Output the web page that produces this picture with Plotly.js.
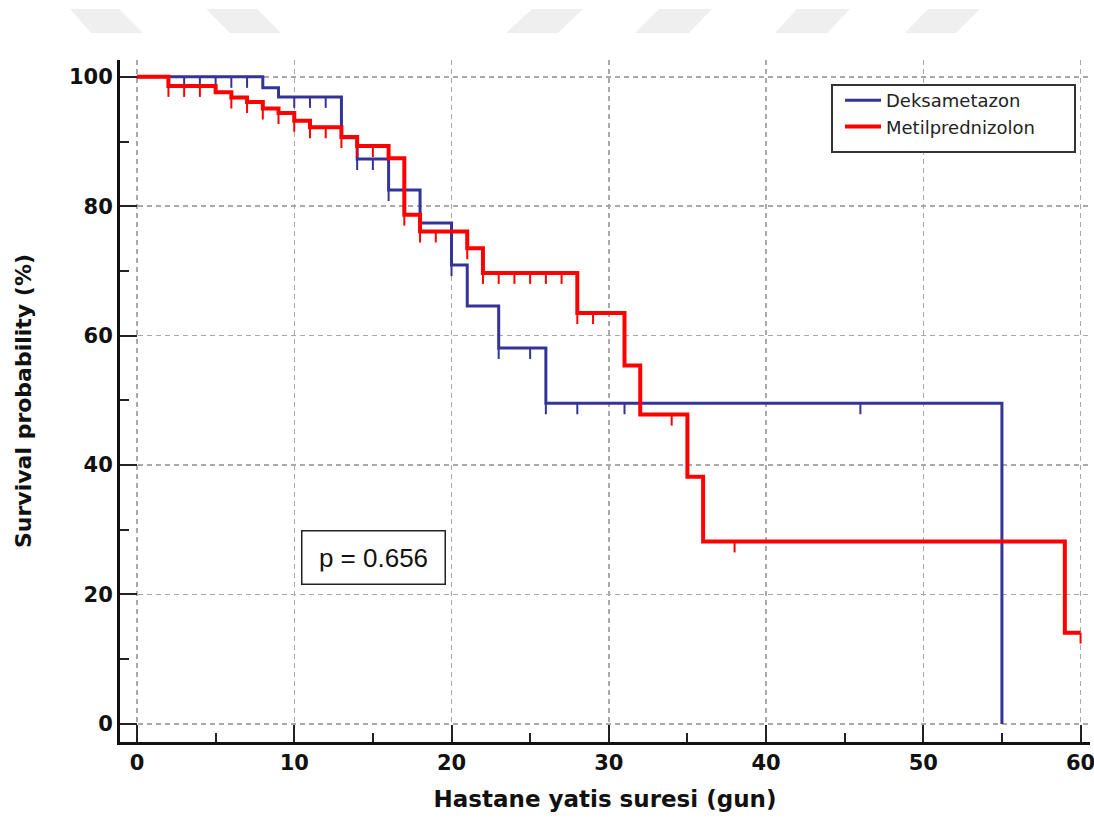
<!DOCTYPE html>
<html>
<head>
<meta charset="utf-8">
<script src="https://cdn.plot.ly/plotly-3.0.1.min.js"></script>
<style>html,body{margin:0;padding:0;background:#fff;}#chart{width:1094px;height:823px;}</style>
</head>
<body>
<div id="chart"></div>
<script>
// ---- data ----
const seriesNames = ["Deksametazon", "Metilprednizolon"];
const dekTime = [0, 8, 9, 13, 14, 16, 18, 20, 21, 23, 26, 55];
const dekSurv = [100, 98.3, 96.9, 90.6, 87.3, 82.5, 77.4, 70.9, 64.6, 58.1, 49.55, 0];
const dekCensor = [3, 4, 5, 6, 7, 10, 11, 12, 14, 15, 16, 20, 23, 25, 26, 28, 31, 46];
const metTime = [0, 2, 5, 6, 7, 8, 9, 10, 11, 13, 14, 16, 17, 18, 21, 22, 28, 31, 32, 35, 36, 59, 60];
const metSurv = [100, 98.6, 97.6, 96.8, 96.1, 95.1, 94.4, 93.2, 92.2, 90.7, 89.3, 87.4, 78.7, 76.1, 73.5, 69.7, 63.5, 55.4, 47.8, 38.2, 28.2, 14.1, 14.1];
const metCensor = [2, 3, 4, 6, 7, 8, 9, 10, 11, 12, 13, 14, 15, 17, 18, 19, 21, 22, 23, 24, 25, 26, 27, 28, 29, 34, 38, 60];
const xTickVals = [0, 10, 20, 30, 40, 50, 60];
const yTickVals = [0, 20, 40, 60, 80, 100];
const xTitle = "Hastane yatis suresi (gun)";
const yTitle = "Survival probability (%)";
const pText = "p = 0.656";

// ---- helpers ----
function survAt(times, surv, t) {
  let s = surv[0];
  for (let i = 0; i < times.length; i++) { if (times[i] <= t) s = surv[i]; }
  return s;
}
const BLUE = "#333399", RED = "#ff0000";
const TICKLEN = 1.7;
function censorTrace(times, surv, cens, color, grp) {
  return {
    type: "scatter", mode: "markers", x: cens,
    y: cens.map(t => survAt(times, surv, t)),
    marker: {size: 2, color: "rgba(0,0,0,0)"},
    error_y: {type: "data", symmetric: false, array: cens.map(() => 0),
              arrayminus: cens.map(() => TICKLEN), width: 0, thickness: 2, color: color},
    showlegend: false, hoverinfo: "skip", legendgroup: grp
  };
}

const W = 1094, H = 823, ML = 120, MR = 4, MT = 60, MB = 81;
const PW = W - ML - MR, PH = H - MT - MB;
const fx = p => (p - ML) / PW;
const fy = p => (H - MB - p) / PH;
function poly(pts) {
  return "M" + pts.map(p => fx(p[0]).toFixed(4) + "," + fy(p[1]).toFixed(4)).join(" L") + " Z";
}
// faint watermark shapes at the top of the image
const wm = [
  [[70,9],[119,9],[143,33],[91,33]],
  [[206,9],[257,9],[281,33],[230,33]],
  [[532,9],[583,9],[558,33],[506,33]],
  [[659,9],[712,9],[689,33],[635,33]],
  [[797,9],[850,9],[827,33],[775,33]],
  [[928,9],[980,9],[956,33],[905,33]]
];
const shapes = wm.map(p => ({type: "path", xref: "paper", yref: "paper", path: poly(p),
  fillcolor: "#efefef", line: {width: 0}, layer: "below"}));
shapes.push({type: "rect", xref: "paper", yref: "paper", x0: fx(832), x1: fx(1075), y0: fy(152), y1: fy(85),
  fillcolor: "#ffffff", line: {color: "#333333", width: 2}, layer: "above"});

const traces = [
  {type: "scatter", mode: "lines", name: seriesNames[0], x: dekTime, y: dekSurv,
   line: {shape: "hv", color: BLUE, width: 3}, legendgroup: "a", hoverinfo: "skip"},
  censorTrace(dekTime, dekSurv, dekCensor, BLUE, "a"),
  {type: "scatter", mode: "lines", name: seriesNames[1], x: metTime, y: metSurv,
   line: {shape: "hv", color: RED, width: 4}, legendgroup: "b", hoverinfo: "skip"},
  censorTrace(metTime, metSurv, metCensor, RED, "b")
];

const FONT = "DejaVu Sans, Liberation Sans, Arial, sans-serif";
const axisCommon = {
  ticks: "inside", ticklen: 17, tickwidth: 2, tickcolor: "#222",
  showline: true, linewidth: 3, linecolor: "#111", mirror: false,
  showgrid: true, gridcolor: "#a9a9a9", gridwidth: 1.5, griddash: "5px,4px",
  zeroline: false, tickmode: "array", ticklabeloverflow: "allow",
  tickfont: {family: FONT, size: 21, color: "#111", weight: "bold"}
};
const layout = {
  width: W, height: H, margin: {l: ML, r: MR, t: MT, b: MB},
  paper_bgcolor: "#ffffff", plot_bgcolor: "#ffffff",
  font: {family: FONT},
  xaxis: Object.assign({}, axisCommon, {
    range: [-1.08, 60.6], tickvals: xTickVals, ticktext: xTickVals.map(String),
    minor: {tickmode: "linear", tick0: 0, dtick: 5, ticks: "inside", ticklen: 9, tickwidth: 2, tickcolor: "#222", showgrid: false},
    title: {text: xTitle, font: {family: FONT, size: 23, color: "#111", weight: "bold"}, standoff: 17}
  }),
  yaxis: Object.assign({}, axisCommon, {
    range: [-2.8, 102.6], tickvals: yTickVals, ticktext: yTickVals.map(String),
    minor: {tickmode: "linear", tick0: 0, dtick: 10, ticks: "inside", ticklen: 9, tickwidth: 2, tickcolor: "#222", showgrid: false},
    title: {text: yTitle, font: {family: FONT, size: 22, color: "#111", weight: "bold"}, standoff: 32}
  }),
  showlegend: true,
  legend: {x: fx(840), y: fy(82), xanchor: "left", yanchor: "top", bgcolor: "rgba(0,0,0,0)",
           borderwidth: 0, font: {family: FONT, size: 18, color: "#222"}, tracegroupgap: 0,
           itemwidth: 36},
  shapes: shapes,
  annotations: [{x: 15.07, y: 25.65, xref: "x", yref: "y", text: pText, showarrow: false,
    font: {family: "Liberation Sans, Arial, sans-serif", size: 26, color: "#111"},
    width: 118, height: 28, borderpad: 12, bordercolor: "#222", borderwidth: 1.5, bgcolor: "#ffffff"}]
};
Plotly.newPlot("chart", traces, layout, {displayModeBar: false, staticPlot: true});
</script>
</body>
</html>
